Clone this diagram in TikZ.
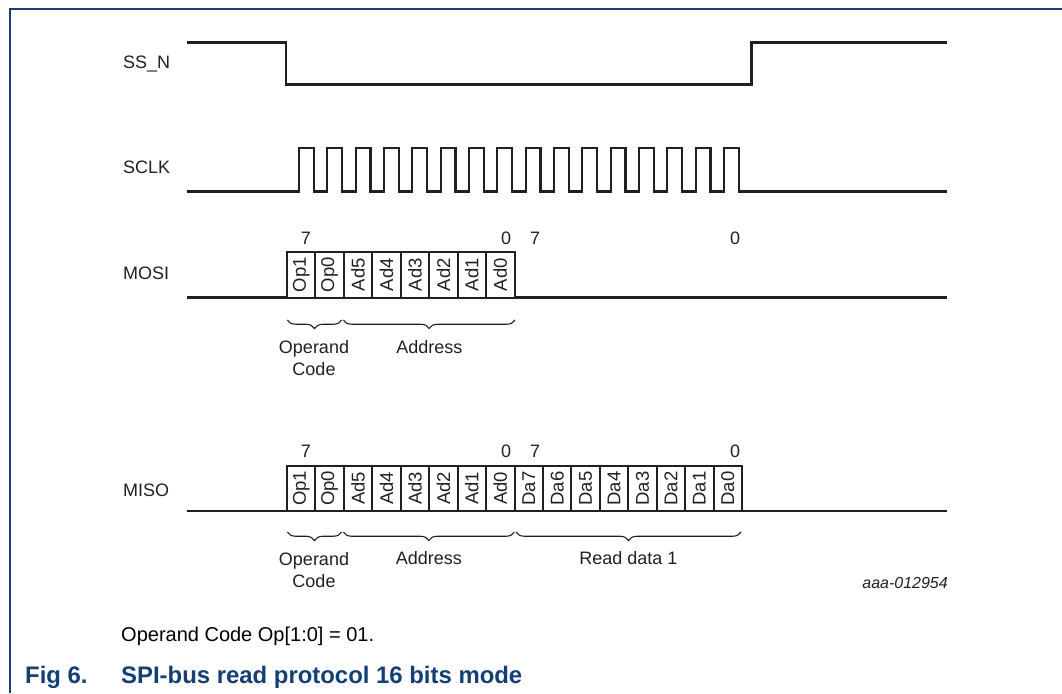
\documentclass[tikz,border=0pt]{standalone}
\usepackage{fontspec}
\setmainfont{Liberation Sans}
\usetikzlibrary{decorations.pathreplacing}
\definecolor{nxpblue}{RGB}{20,62,118}
\definecolor{ink}{RGB}{35,31,32}
\begin{document}
\begin{tikzpicture}[x=1pt,y=-1pt,
  wave/.style={draw=ink,line width=2.2pt,line join=miter},
  cell/.style={draw=ink,line width=2pt,minimum width=45.5pt,minimum height=28.44pt,inner sep=0pt,outer sep=0pt,rotate=90,font=\fontsize{18.5}{19}\selectfont,text=ink},
  lbl/.style={font=\fontsize{18}{20.5}\selectfont,text=ink,inner sep=0pt},
  brc/.style={draw=ink,line width=1.1pt,decorate,decoration={brace,mirror,amplitude=8.5pt}},
  capnote/.style={font=\fontsize{20}{24}\selectfont,text=black,inner sep=0pt,anchor=west},
  ttl/.style={font=\fontsize{23.9}{26}\selectfont\bfseries,text=nxpblue,inner sep=0pt,anchor=west}
]
\useasboundingbox (0,0) rectangle (1062,693);
% frame
\draw[nxpblue,line width=2pt] (1062,9.5) -- (9.5,9.5) -- (9.5,693);

% signal labels
\node[lbl,anchor=west] (lssn) at (123,64) {SS\_N};
\node[lbl,anchor=west] (lsclk) at (123,167) {SCLK};
\node[lbl,anchor=west] (lmosi) at (123,273) {MOSI};
\node[lbl,anchor=west] (lmiso) at (123,490) {MISO};

% SS_N
\draw[wave] (187,42.5) -- (286,42.5) -- (286,84.5) -- (751.5,84.5) -- (751.5,42.5) -- (947,42.5);

% SCLK
\draw[wave] (187,191.5)
  \foreach \k in {0,...,15}{ -- ({299+28.33*\k},191.5) -- ({299+28.33*\k},148) -- ({313.8+28.33*\k},148) -- ({313.8+28.33*\k},191.5)}
  -- (947,191.5);

% MOSI
\draw[wave] (187,297.5) -- (287,297.5);
\foreach \t [count=\i from 0] in {Op1,Op0,Ad5,Ad4,Ad3,Ad2,Ad1,Ad0}{
  \node[cell] (mo\i) at ({287+28.44*(\i+0.5)},274.75) {\t};
}
\draw[wave] (514.5,297.5) -- (947,297.5);

\node[lbl] (mo7n) at (306,238) {7};
\node[lbl] (mo0n) at (506,238) {0};
\node[lbl] (mo7b) at (535,238) {7};
\node[lbl] (mo0b) at (735,238) {0};

\draw[brc] (287.3,320) -- (341.7,320);
\draw[brc] (343.3,320) -- (515,320);
\node[lbl,align=center] (moop) at (314,358) {Operand\\[2pt]Code};
\node[lbl] (moad) at (429.3,347) {Address};

% MISO
\draw[wave] (187,511) -- (287,511);
\foreach \t [count=\i from 0] in {Op1,Op0,Ad5,Ad4,Ad3,Ad2,Ad1,Ad0,Da7,Da6,Da5,Da4,Da3,Da2,Da1,Da0}{
  \node[cell] (mi\i) at ({287+28.44*(\i+0.5)},488.5) {\t};
}
\draw[wave] (742,511) -- (947,511);

\node[lbl] (mi7n) at (306,451.5) {7};
\node[lbl] (mi0n) at (506,451.5) {0};
\node[lbl] (mi7b) at (535,451.5) {7};
\node[lbl] (mi0b) at (735,451.5) {0};

\draw[brc] (287.3,532) -- (341.7,532);
\draw[brc] (343.3,532) -- (514.3,532);
\draw[brc] (516,532) -- (741,532);
\node[lbl,align=center] (miop) at (314,570) {Operand\\[2pt]Code};
\node[lbl] (miad) at (428.8,558.3) {Address};
\node[lbl] (mird) at (628.3,558.3) {Read data 1};

\node[font=\fontsize{16}{18}\selectfont\itshape,text=ink,inner sep=0pt,anchor=east] (code) at (948,583) {aaa-012954};

% caption
\node[capnote] (note) at (121,636) {Operand Code Op[1:0] = 01.};
\node[ttl] (fig) at (25,677) {Fig 6.};
\node[ttl] (title) at (121,677) {SPI-bus read protocol 16 bits mode};
\end{tikzpicture}
\end{document}
